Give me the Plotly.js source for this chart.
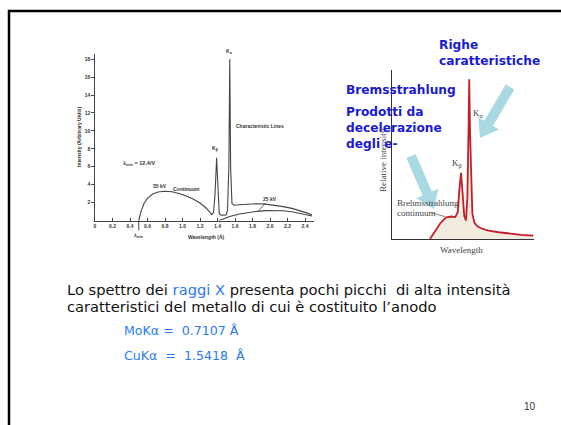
<!DOCTYPE html>
<html>
<head>
<meta charset="utf-8">
<script src="https://cdn.plot.ly/plotly-3.0.1.min.js"></script>
<style>html,body{margin:0;padding:0;background:#fff;}#chart{width:561px;height:425px;}</style>
</head>
<body>
<div id="chart"></div>
<script>
// ---- Left chart data (Cullity-style spectrum, wavelength in Å, arbitrary units) ----
const leftX35 = [0.5,0.53,0.56,0.6,0.66,0.72,0.8,0.88,0.95,1.03,1.12,1.2,1.27,1.31,1.335,1.355,1.372,1.39,1.405,1.42,1.44,1.47,1.5,1.515,1.53,1.54,1.55,1.565,1.59,1.65,1.75,1.85,1.95,2.05,2.15,2.25,2.35,2.42,2.48];
const leftY35 = [0,1.15,1.9,2.5,2.95,3.18,3.27,3.2,3.05,2.8,2.4,1.95,1.4,0.9,0.66,0.9,3.0,7.0,2.8,0.75,0.6,0.58,0.62,1.2,6.0,18.0,6.0,1.9,1.7,1.75,1.83,1.87,1.83,1.7,1.55,1.35,1.1,0.85,0.62];
const leftX25 = [1.42,1.48,1.55,1.65,1.75,1.85,1.95,2.05,2.15,2.25,2.35,2.42,2.48];
const leftY25 = [0,0.25,0.48,0.72,0.9,1.02,1.1,1.12,1.08,0.98,0.8,0.65,0.5];
const leftXTicks = [0,0.2,0.4,0.6,0.8,1.0,1.2,1.4,1.6,1.8,2.0,2.2,2.4];
const leftXTickText = ["0","0.2","0.4","0.6","0.8","1.0","1.2","1.4","1.6","1.8","2.0","2.2","2.4"];
const leftYTicks = [2,4,6,8,10,12,14,16,18];

// ---- Right chart data (relative units) ----
const rightX = [2.66,3.0,3.4,3.8,4.2,4.45,4.62,4.72,4.85,4.97,5.08,5.2,5.3,5.38,5.43,5.49,5.56,5.65,5.8,6.0,6.3,6.8,7.5,8.3,9.1,9.95];
const rightY = [0,0.45,0.95,1.28,1.33,1.3,1.6,2.8,3.92,2.6,1.35,1.1,2.5,6.5,9.45,6.2,3.2,1.5,0.95,0.75,0.62,0.5,0.4,0.32,0.25,0.2];

const W = 561, H = 425;
const px = v => v / W;
const py = v => 1 - v / H;

function arrowPath(x0, y0, x1, y1, sw, hw, hl) {
  const dx = x1 - x0, dy = y1 - y0, L = Math.hypot(dx, dy);
  const ux = dx / L, uy = dy / L, nx = -uy, ny = ux;
  const bx = x1 - ux * hl, by = y1 - uy * hl;
  const pts = [
    [x0 + nx * sw / 2, y0 + ny * sw / 2], [bx + nx * sw / 2, by + ny * sw / 2],
    [bx + nx * hw / 2, by + ny * hw / 2], [x1, y1],
    [bx - nx * hw / 2, by - ny * hw / 2], [bx - nx * sw / 2, by - ny * sw / 2],
    [x0 - nx * sw / 2, y0 - ny * sw / 2]
  ];
  return 'M' + pts.map(p => px(p[0]).toFixed(5) + ',' + py(p[1]).toFixed(5)).join('L') + 'Z';
}

const tinyFont = {family: 'Liberation Sans, Arial, sans-serif', size: 5, color: '#333', weight: 'bold'};
const serifFont = {family: 'Liberation Serif, Times New Roman, serif', size: 9, color: '#444'};
const blueBold = {family: 'DejaVu Sans, Verdana, sans-serif', size: 12.2, color: '#1a1ad2', weight: 'bold'};
const bodyFont = {family: 'DejaVu Sans, sans-serif', size: 14.7, color: '#111'};
const blueBody = {family: 'DejaVu Sans, sans-serif', size: 12.6, color: '#2a7af2'};

// paper-positioned text helper (pixel coordinates of the 561x425 page)
function ptext(x, y, text, font, xanchor, extra) {
  return Object.assign({xref: 'paper', yref: 'paper', x: px(x), y: py(y), text: text, showarrow: false,
    font: font, xanchor: xanchor || 'center', yanchor: 'middle'}, extra || {});
}

const traces = [
  {x: leftX35, y: leftY35, xaxis: 'x', yaxis: 'y', mode: 'lines', line: {color: '#444', width: 1.1}, hoverinfo: 'skip'},
  {x: leftX25, y: leftY25, xaxis: 'x', yaxis: 'y', mode: 'lines', line: {color: '#444', width: 1.1}, hoverinfo: 'skip'},
  {x: rightX, y: rightY, xaxis: 'x2', yaxis: 'y2', mode: 'lines', fill: 'tozeroy',
   fillcolor: 'rgba(236,230,212,0.75)', line: {color: '#c41e2a', width: 1.8}, hoverinfo: 'skip'}
];

const annotations = [
  // left chart labels
  ptext(229, 51.5, 'K<sub>α</sub>', tinyFont),
  {xref: 'x', yref: 'y', x: 1.375, y: 8.0, text: 'K<sub>β</sub>', showarrow: false, font: tinyFont},
  {xref: 'x', yref: 'y', x: 1.585, y: 10.55, xanchor: 'left', text: 'Characteristic Lines', showarrow: false, font: tinyFont},
  {xref: 'x', yref: 'y', x: 0.74, y: 3.8, text: '35 kV', showarrow: false, font: tinyFont},
  {xref: 'x', yref: 'y', x: 1.05, y: 3.5, text: 'Continuum', showarrow: false, font: tinyFont},
  {xref: 'x', yref: 'y', x: 1.87, y: 1.1, ax: 11, ay: -12, text: '25 kV', showarrow: true, arrowhead: 0, arrowwidth: 0.8, arrowcolor: '#444', standoff: 0, font: tinyFont},
  {xref: 'x', yref: 'y', x: 0.5, y: 6.35, text: 'λ<sub>min</sub> = 12.4/V', showarrow: false, font: {family: tinyFont.family, size: 5.5, color: '#333', weight: 'bold'}},
  {xref: 'x', yref: 'y', x: 0.5, y: 0, ax: 0, ay: 15, text: 'λ<sub>min</sub>', showarrow: true, arrowhead: 1, arrowsize: 0.6, arrowwidth: 0.9, arrowcolor: '#333', font: tinyFont},
  ptext(206.7, 237, 'Wavelength (Å)', tinyFont),
  ptext(79, 137, 'Intensity (Arbitrary Units)', tinyFont, 'center', {textangle: -90}),
  // right chart labels
  {xref: 'x2', yref: 'y2', x: 6.07, y: 7.44, text: 'K<sub>α</sub>', showarrow: false, font: serifFont},
  {xref: 'x2', yref: 'y2', x: 4.59, y: 4.48, text: 'K<sub>β</sub>', showarrow: false, font: serifFont},
  {xref: 'x2', yref: 'y2', x: 0.19, y: 2.12, xanchor: 'left', text: 'Brehmsstrahlung', showarrow: false, font: serifFont},
  {xref: 'x2', yref: 'y2', x: 0.19, y: 1.56, xanchor: 'left', text: 'continuum', showarrow: false, font: serifFont},
  ptext(461, 250, 'Wavelength', serifFont),
  ptext(383, 160, 'Relative intensity', serifFont, 'center', {textangle: -90}),
  // blue overlay labels
  ptext(436.5, 45, 'Righe', blueBold, 'left'),
  ptext(436.5, 61, 'caratteristiche', blueBold, 'left'),
  ptext(344, 90, 'Bremsstrahlung', blueBold, 'left'),
  ptext(344, 112, 'Prodotti da', blueBold, 'left'),
  ptext(344, 128, 'decelerazione', blueBold, 'left'),
  ptext(344, 143.5, 'degli e-', blueBold, 'left'),
  // slide text
  ptext(65, 289, 'Lo spettro dei <span style="color:#2a7af2">raggi X</span> presenta pochi picchi  di alta intensità', bodyFont, 'left'),
  ptext(65, 306, 'caratteristici del metallo di cui è costituito l’anodo', bodyFont, 'left'),
  ptext(122, 330, 'MoKα =  0.7107 Å', blueBody, 'left'),
  ptext(122, 355, 'CuKα  =  1.5418  Å', blueBody, 'left'),
  ptext(530, 406, '10', {family: 'Liberation Sans, Arial, sans-serif', size: 10, color: '#333'})
];

const shapes = [
  {type: 'line', xref: 'paper', yref: 'paper', x0: px(8), x1: 1, y0: py(11), y1: py(11), line: {color: '#000', width: 2.5}},
  {type: 'line', xref: 'paper', yref: 'paper', x0: px(9), x1: px(9), y0: py(10), y1: 0, line: {color: '#000', width: 2.5}},
  {type: 'path', xref: 'paper', yref: 'paper', path: arrowPath(510, 87, 480, 138, 10, 24, 17), fillcolor: '#a9d9e2', line: {width: 0}, layer: 'above'},
  {type: 'path', xref: 'paper', yref: 'paper', path: arrowPath(411, 156, 434, 209, 10, 24, 17), fillcolor: '#a9d9e2', line: {width: 0}, layer: 'above'},
  {type: 'line', xref: 'paper', yref: 'paper', x0: px(432), y0: py(213), x1: px(445), y1: py(216.5), line: {color: '#666', width: 0.8}}
];

const layout = {
  width: W, height: H,
  margin: {l: 0, r: 0, t: 0, b: 0},
  paper_bgcolor: '#fff', plot_bgcolor: 'rgba(0,0,0,0)',
  showlegend: false,
  xaxis: {domain: [px(95), px(95 + 2.5 * 87.5)], range: [0, 2.5], anchor: 'y',
          showgrid: false, zeroline: false, showline: true, linecolor: '#444', linewidth: 1.2,
          tickvals: leftXTicks, ticktext: leftXTickText, ticks: 'inside', ticklen: 2.5, tickcolor: '#444',
          tickfont: tinyFont, fixedrange: true},
  yaxis: {domain: [py(220.5), py(53.8)], range: [0, 18.6], anchor: 'x',
          showgrid: false, zeroline: false, showline: true, linecolor: '#444', linewidth: 1.2,
          tickvals: leftYTicks, ticks: 'outside', ticklen: 2.5, tickcolor: '#444',
          tickfont: tinyFont, fixedrange: true},
  xaxis2: {domain: [px(392.3), px(534)], range: [0, 10], anchor: 'y2',
           showgrid: false, zeroline: false, showline: true, linecolor: '#333', linewidth: 1.2,
           showticklabels: false, ticks: '', fixedrange: true},
  yaxis2: {domain: [py(239), py(70)], range: [0, 10], anchor: 'x2',
           showgrid: false, zeroline: false, showline: true, linecolor: '#333', linewidth: 1.2,
           showticklabels: false, ticks: '', fixedrange: true},
  annotations: annotations,
  shapes: shapes
};

Plotly.newPlot('chart', traces, layout, {displayModeBar: false, staticPlot: true});
</script>
</body>
</html>
